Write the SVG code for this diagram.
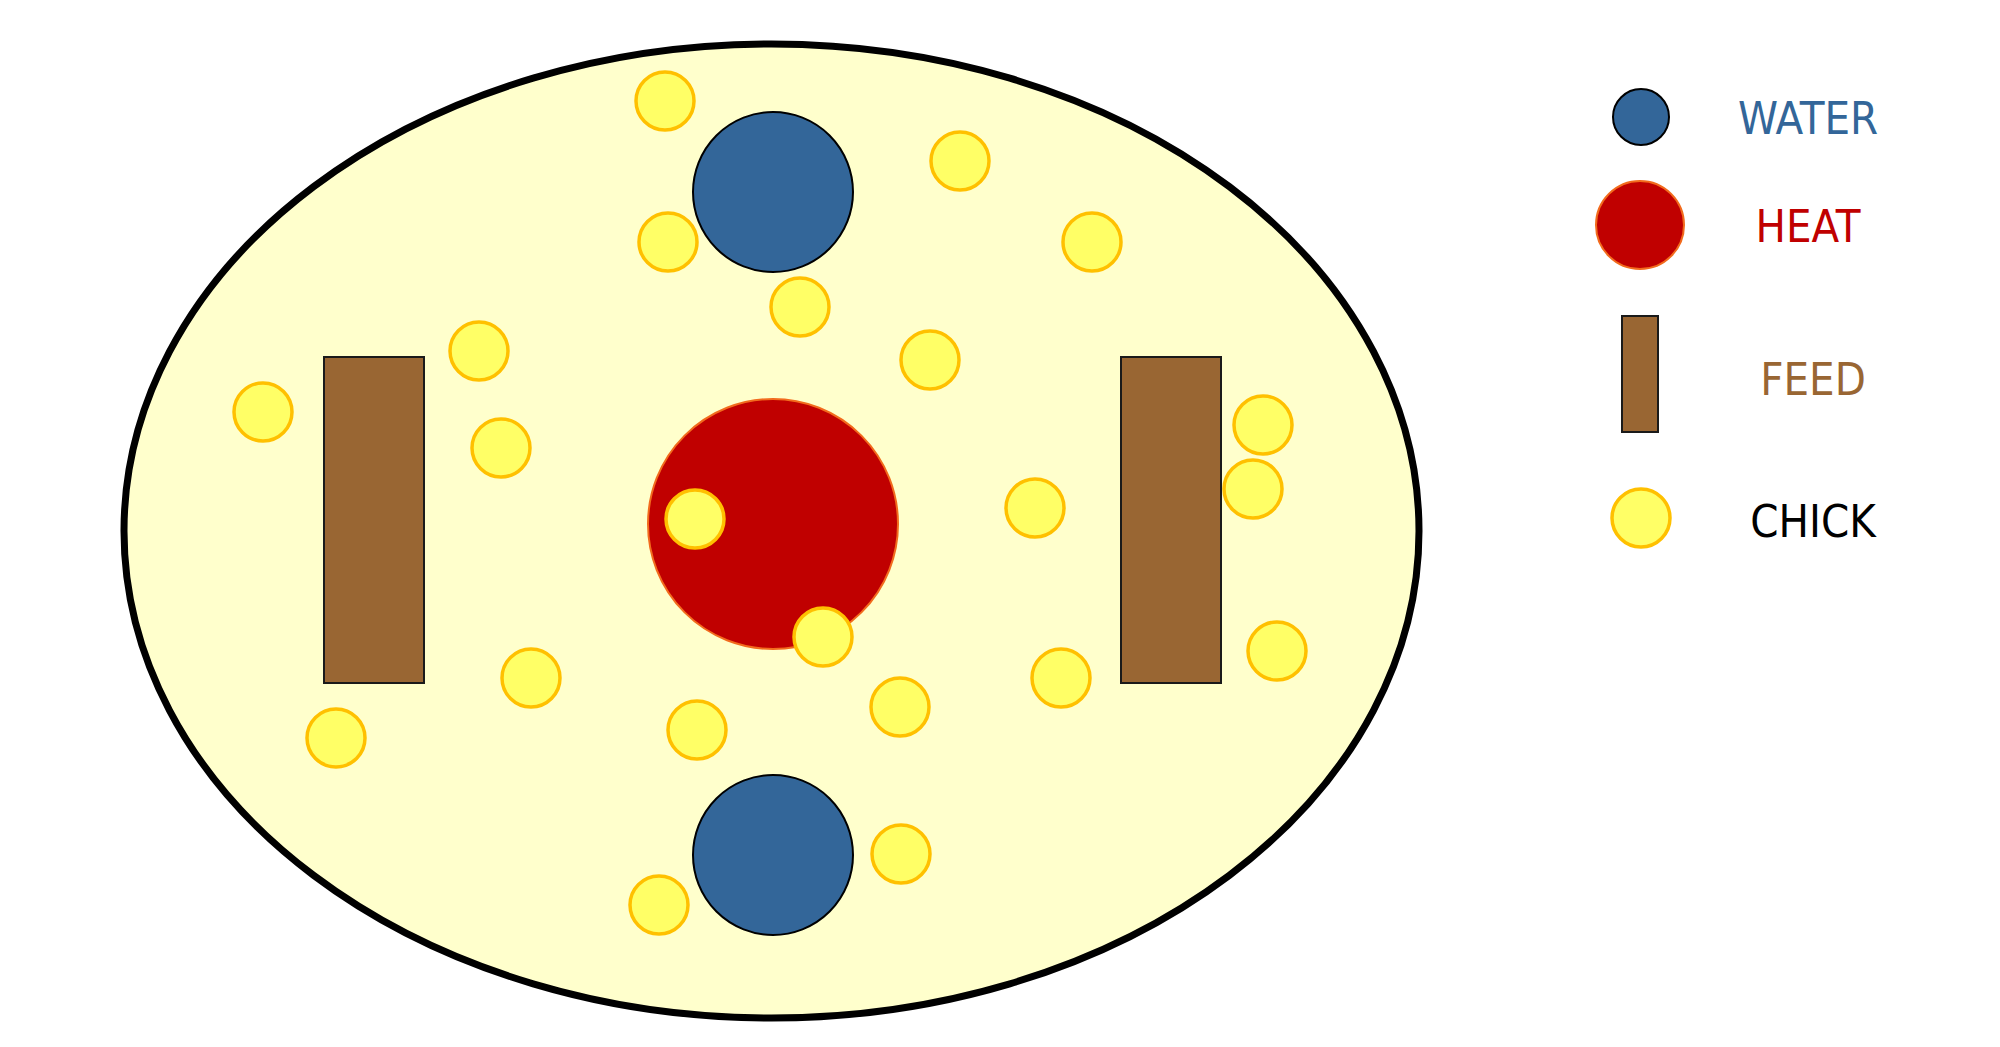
<svg xmlns="http://www.w3.org/2000/svg" width="2000" height="1047" viewBox="0 0 2000 1047">
<style>
.water{fill:#336699;stroke:#000;stroke-width:2}
.heat{fill:#C00000;stroke:#F26B1D;stroke-width:2}
.feed{fill:#996633;stroke:#1a1a1a;stroke-width:2}
.chick{fill:#FFFF66;stroke:#FFC000;stroke-width:3.5}
.lbl{font-family:"DejaVu Sans Condensed","DejaVu Sans",sans-serif;font-size:45px;text-anchor:middle}
</style>
<rect width="2000" height="1047" fill="#fff"/>
<g id="pen">
<ellipse cx="771.5" cy="531" rx="647.5" ry="487" fill="#FFFFCC" stroke="#000" stroke-width="7"/>
</g>
<g id="water-top"><circle class="water" cx="773" cy="192" r="80"/></g>
<g id="water-bottom"><circle class="water" cx="773" cy="855" r="80"/></g>
<g id="heat"><circle class="heat" cx="773" cy="524" r="125"/></g>
<g id="feed-left"><rect class="feed" x="324" y="357" width="100" height="326"/></g>
<g id="feed-right"><rect class="feed" x="1121" y="357" width="100" height="326"/></g>
<g id="chicks">
<circle class="chick" cx="665" cy="101" r="29"/>
<circle class="chick" cx="960" cy="161" r="29"/>
<circle class="chick" cx="668" cy="242" r="29"/>
<circle class="chick" cx="800" cy="307" r="29"/>
<circle class="chick" cx="479" cy="351" r="29"/>
<circle class="chick" cx="930" cy="360" r="29"/>
<circle class="chick" cx="263" cy="412" r="29"/>
<circle class="chick" cx="501" cy="448" r="29"/>
<circle class="chick" cx="695" cy="519" r="29"/>
<circle class="chick" cx="1092" cy="242" r="29"/>
<circle class="chick" cx="1263" cy="425" r="29"/>
<circle class="chick" cx="1253" cy="489" r="29"/>
<circle class="chick" cx="1035" cy="508" r="29"/>
<circle class="chick" cx="823" cy="637" r="29"/>
<circle class="chick" cx="531" cy="678" r="29"/>
<circle class="chick" cx="336" cy="738" r="29"/>
<circle class="chick" cx="697" cy="730" r="29"/>
<circle class="chick" cx="900" cy="707" r="29"/>
<circle class="chick" cx="901" cy="854" r="29"/>
<circle class="chick" cx="659" cy="905" r="29"/>
<circle class="chick" cx="1061" cy="678" r="29"/>
<circle class="chick" cx="1277" cy="651" r="29"/>
</g>
<g id="legend-water">
<circle class="water" cx="1641" cy="117" r="28"/>
<text class="lbl" x="1808" y="134" fill="#336699">WATER</text>
</g>
<g id="legend-heat">
<circle class="heat" cx="1640" cy="225" r="44"/>
<text class="lbl" x="1808" y="242" fill="#C00000">HEAT</text>
</g>
<g id="legend-feed">
<rect class="feed" x="1622" y="316" width="36" height="116"/>
<text class="lbl" x="1813" y="395" fill="#996633">FEED</text>
</g>
<g id="legend-chick">
<circle class="chick" cx="1641" cy="518" r="29"/>
<text class="lbl" x="1813" y="537" fill="#000">CHICK</text>
</g>
<g id="connectors"/>
</svg>
